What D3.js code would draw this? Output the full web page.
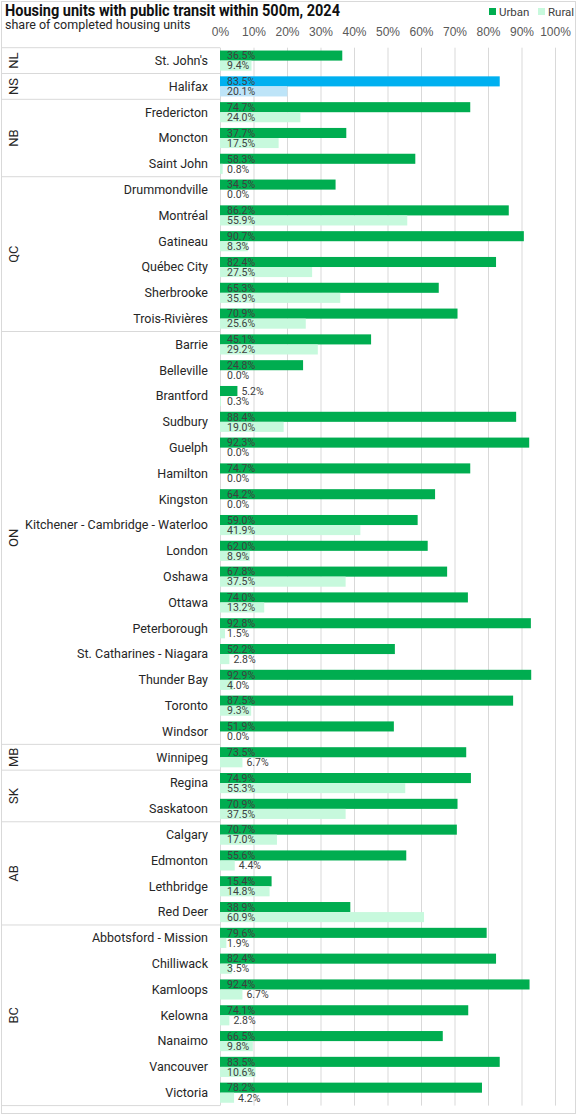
<!DOCTYPE html>
<html>
<head>
<meta charset="utf-8">
<script src="https://cdn.jsdelivr.net/npm/d3@7"></script>
<style>
  body { margin: 0; background: #fff; }
  svg { display: block; font-family: Roboto, "Liberation Sans", sans-serif; }
</style>
</head>
<body>
<div id="chart"></div>
<script>
// Data
const provinces = ["NL", "NS", "NB", "QC", "ON", "MB", "SK", "AB", "BC"];
const cityProvince = [
  "NL", "NS", "NB", "NB", "NB",
  "QC", "QC", "QC", "QC", "QC", "QC",
  "ON", "ON", "ON", "ON", "ON", "ON", "ON", "ON", "ON", "ON", "ON", "ON", "ON", "ON", "ON", "ON",
  "MB", "SK", "SK", "AB", "AB", "AB", "AB",
  "BC", "BC", "BC", "BC", "BC", "BC", "BC"
];
const cities = [
  "St. John's", "Halifax", "Fredericton", "Moncton", "Saint John",
  "Drummondville", "Montréal", "Gatineau", "Québec City", "Sherbrooke", "Trois-Rivières",
  "Barrie", "Belleville", "Brantford", "Sudbury", "Guelph", "Hamilton", "Kingston",
  "Kitchener - Cambridge - Waterloo", "London", "Oshawa", "Ottawa", "Peterborough",
  "St. Catharines - Niagara", "Thunder Bay", "Toronto", "Windsor",
  "Winnipeg", "Regina", "Saskatoon", "Calgary", "Edmonton", "Lethbridge", "Red Deer",
  "Abbotsford - Mission", "Chilliwack", "Kamloops", "Kelowna", "Nanaimo", "Vancouver", "Victoria"
];
const urban = [
  36.5, 83.5, 74.7, 37.7, 58.3,
  34.5, 86.2, 90.7, 82.4, 65.3, 70.9,
  45.1, 24.8, 5.2, 88.4, 92.3, 74.7, 64.2, 59.0, 62.0, 67.8, 74.0, 92.8, 52.2, 92.9, 87.5, 51.9,
  73.5, 74.9, 70.9, 70.7, 55.6, 15.4, 38.9,
  79.6, 82.4, 92.4, 74.1, 66.5, 83.5, 78.2
];
const rural = [
  9.4, 20.1, 24.0, 17.5, 0.8,
  0.0, 55.9, 8.3, 27.5, 35.9, 25.6,
  29.2, 0.0, 0.3, 19.0, 0.0, 0.0, 0.0, 41.9, 8.9, 37.5, 13.2, 1.5, 2.8, 4.0, 9.3, 0.0,
  6.7, 55.3, 37.5, 17.0, 4.4, 14.8, 60.9,
  1.9, 3.5, 6.7, 2.8, 9.8, 10.6, 4.2
];
const xTicks = [0, 10, 20, 30, 40, 50, 60, 70, 80, 90, 100];
const highlightCity = "Halifax";

// labels that sit just past the end of the bar instead of at its base
const labelsAtEnd = new Set([
  "Brantford|urban", "St. Catharines - Niagara|rural", "Winnipeg|rural",
  "Edmonton|rural", "Kamloops|rural", "Kelowna|rural", "Victoria|rural"
]);

const width = 577, height = 1115;
const plotTop = 47.7, plotBottom = 1105.6;
const plotLeft = 220, plotRight = 555;

const colors = {
  urban: "#00ad50", rural: "#c7f9dd",
  urbanHi: "#00b0f0", ruralHi: "#bde4f8",
  grid: "#d9d9d9", text: "#404040"
};

const rows = cities.map((c, i) => ({ city: c, prov: cityProvince[i], urban: urban[i], rural: rural[i] }));

const svg = d3.select("#chart").append("svg")
  .attr("width", width)
  .attr("height", height);

// Outer border
svg.append("rect")
  .attr("x", 1.5).attr("y", 1.5)
  .attr("width", width - 3).attr("height", height - 3)
  .attr("fill", "none").attr("stroke", colors.grid);

// Scales
const x = d3.scaleLinear().domain([0, 100]).range([plotLeft, plotRight]);
const y = d3.scaleBand().domain(cities).range([plotTop, plotBottom]).paddingInner(0.22).paddingOuter(0.11);
const sub = d3.scaleBand().domain(["urban", "rural"]).range([0, y.bandwidth()]);
const step = y.step();

// Gridlines
svg.append("g")
  .attr("transform", `translate(0,${plotTop})`)
  .call(d3.axisBottom(x).tickValues(xTicks).tickSize(plotBottom - plotTop).tickFormat(""))
  .call(g => g.select(".domain").remove())
  .call(g => g.selectAll("line").attr("stroke", colors.grid));

// Tick labels
svg.append("g")
  .attr("transform", `translate(0,${plotTop - 9})`)
  .call(d3.axisTop(x).tickValues(xTicks).tickSize(0).tickFormat(d => d + "%"))
  .call(g => g.select(".domain").remove())
  .call(g => g.selectAll("text")
    .attr("font-size", "12px")
    .attr("font-family", null)
    .attr("fill", "#595959"));

// Province groups
const groups = provinces.map(p => {
  const members = rows.filter(r => r.prov === p);
  const first = members[0].city, last = members[members.length - 1].city;
  return {
    prov: p,
    y0: y(first) - step * y.paddingOuter(),
    y1: y(last) + y.bandwidth() + step * y.paddingOuter()
  };
});

svg.append("g").selectAll("line")
  .data([plotTop, ...groups.map(g => g.y1)])
  .join("line")
  .attr("x1", 1.5).attr("x2", plotLeft)
  .attr("y1", d => d).attr("y2", d => d)
  .attr("stroke", colors.grid);

svg.append("g").selectAll("text")
  .data(groups)
  .join("text")
  .attr("transform", d => `translate(18,${(d.y0 + d.y1) / 2}) rotate(-90)`)
  .attr("text-anchor", "middle")
  .attr("font-size", "13px")
  .attr("fill", "#262626")
  .text(d => d.prov);

// City labels
svg.append("g").selectAll("text")
  .data(rows)
  .join("text")
  .attr("x", 208)
  .attr("y", d => y(d.city) + y.bandwidth() / 2)
  .attr("dy", "0.35em")
  .attr("text-anchor", "end")
  .attr("font-size", "12.5px")
  .attr("fill", "#262626")
  .text(d => d.city);

// Bars
const bars = rows.flatMap(r => ["urban", "rural"].map(k => ({ city: r.city, key: k, value: r[k] })));

const barColor = d => {
  const hi = d.city === highlightCity;
  if (d.key === "urban") return hi ? colors.urbanHi : colors.urban;
  return hi ? colors.ruralHi : colors.rural;
};

svg.append("g").selectAll("rect")
  .data(bars)
  .join("rect")
  .attr("x", x(0))
  .attr("y", d => y(d.city) + sub(d.key))
  .attr("width", d => x(d.value) - x(0))
  .attr("height", sub.bandwidth())
  .attr("fill", barColor);

// Value labels
svg.append("g").selectAll("text")
  .data(bars)
  .join("text")
  .attr("x", d => labelsAtEnd.has(d.city + "|" + d.key) ? x(d.value) + 4 : x(0) + 7)
  .attr("y", d => y(d.city) + sub(d.key) + sub.bandwidth() / 2)
  .attr("dy", "0.36em")
  .attr("font-size", "10.5px")
  .attr("fill", colors.text)
  .text(d => d.value.toFixed(1) + "%");

// Title and subtitle
svg.append("text")
  .attr("x", 5).attr("y", 16)
  .attr("font-size", "16px")
  .attr("font-weight", "bold")
  .attr("fill", "#111")
  .attr("textLength", 335)
  .attr("lengthAdjust", "spacingAndGlyphs")
  .text("Housing units with public transit within 500m, 2024");

svg.append("text")
  .attr("x", 5).attr("y", 29)
  .attr("font-size", "12.5px")
  .attr("fill", "#262626")
  .text("share of completed housing units");

// Legend
const legend = svg.append("g").selectAll("g")
  .data([{ label: "Urban", color: colors.urban, x: 489 }, { label: "Rural", color: colors.rural, x: 538 }])
  .join("g")
  .attr("transform", d => `translate(${d.x},8)`);

legend.append("rect")
  .attr("width", 7).attr("height", 7)
  .attr("fill", d => d.color);

legend.append("text")
  .attr("x", 10).attr("y", 3.5)
  .attr("dy", "0.35em")
  .attr("font-size", "11.5px")
  .attr("fill", colors.text)
  .text(d => d.label);
</script>
</body>
</html>
